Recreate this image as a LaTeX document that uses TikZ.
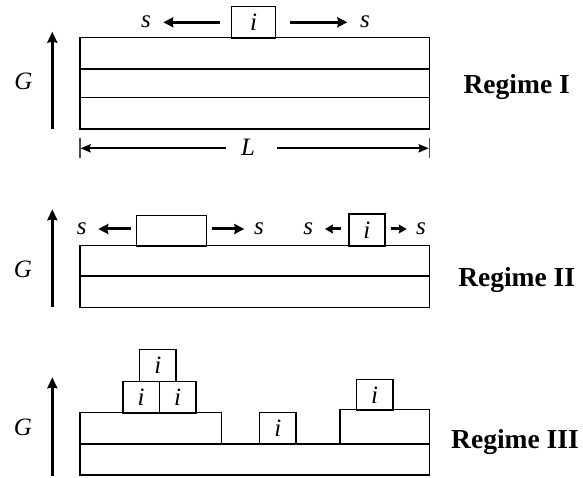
\documentclass[tikz,border=0pt]{standalone}
\usepackage{fontspec}
\setmainfont{Liberation Serif}
\usetikzlibrary{arrows.meta}
\begin{document}
\begin{tikzpicture}[x=1pt,y=-1pt,
  layer/.style={draw,line width=1.3pt},
  ibox/.style={draw,line width=1.3pt,inner sep=0pt,anchor=north west,font=\fontsize{25}{25}\selectfont\itshape},
  lbl/.style={inner sep=0pt,font=\fontsize{25}{25}\selectfont\itshape},
  reg/.style={inner sep=0pt,anchor=base,font=\fontsize{27.5}{27.5}\selectfont\bfseries},
  sarrow/.style={line width=3pt,-{Stealth[length=10pt,width=10pt,inset=1pt]}},
  smallarrow/.style={line width=3pt,-{Stealth[length=8pt,width=9pt,inset=1pt]}},
  garrow/.style={line width=3pt,-{Stealth[length=11pt,width=10pt,inset=1pt]}},
  larrow/.style={line width=2.2pt,-{Stealth[length=10pt,width=8pt,inset=1pt]}},
  tick/.style={line width=1.2pt,gray!60!black}]
\useasboundingbox (0,0) rectangle (583,478);
% ---------------- Regime I
\draw[layer] (80,37.7) rectangle (429.3,129);
\draw[layer] (80,69) -- (429.3,69);
\draw[layer] (80,97.7) -- (429.3,97.7);
\node[ibox,minimum width=44pt,minimum height=31.7pt] (i1) at (231,6) {i};
\coordinate (a1s) at (220,22.3); \coordinate (a1e) at (163.3,22.3);
\coordinate (b1s) at (290,22.3); \coordinate (b1e) at (347.3,22.3);
\draw[sarrow] (a1s) -- (a1e);
\draw[sarrow] (b1s) -- (b1e);
\node[lbl] (s1a) at (146,22) {s};
\node[lbl] (s1b) at (365,22) {s};
\coordinate (t1a) at (80,138); \coordinate (t1b) at (80,158);
\coordinate (t2a) at (429.3,138); \coordinate (t2b) at (429.3,158);
\draw[tick] (t1a) -- (t1b);
\draw[tick] (t2a) -- (t2b);
\node[lbl] (L) at (248,147) {L};
\coordinate (l1s) at (226,148.3); \coordinate (l1e) at (80.5,148.3);
\coordinate (l2s) at (276.7,148.3); \coordinate (l2e) at (428.8,148.3);
\draw[larrow] (l1s) -- (l1e);
\draw[larrow] (l2s) -- (l2e);
\coordinate (g1s) at (52.3,129); \coordinate (g1e) at (52.3,31.7);
\draw[garrow] (g1s) -- (g1e);
\node[lbl] (G1) at (23.3,81) {G};
\node[reg] (R1) at (516.7,93.3) {Regime I};
% ---------------- Regime II
\draw[layer] (80,245.7) rectangle (429.3,307.3);
\draw[layer] (80,276) -- (429.3,276);
\node[ibox,minimum width=70pt,minimum height=30.7pt] (big) at (136,215) {};
\node[ibox,minimum width=36pt,minimum height=32.4pt] (i2) at (348.3,213.3) {i};
\coordinate (c1s) at (130.7,229); \coordinate (c1e) at (98.3,229);
\coordinate (c2s) at (211.7,229); \coordinate (c2e) at (244.3,229);
\coordinate (c3s) at (341,229); \coordinate (c3e) at (325,229);
\coordinate (c4s) at (391,229); \coordinate (c4e) at (406.7,229);
\draw[sarrow] (c1s) -- (c1e);
\draw[sarrow] (c2s) -- (c2e);
\draw[smallarrow] (c3s) -- (c3e);
\draw[smallarrow] (c4s) -- (c4e);
\node[lbl] (s2a) at (81.7,229) {s};
\node[lbl] (s2b) at (259,229) {s};
\node[lbl] (s2c) at (308.3,229) {s};
\node[lbl] (s2d) at (421,229) {s};
\coordinate (g2s) at (52.3,307); \coordinate (g2e) at (52.3,209.3);
\draw[garrow] (g2s) -- (g2e);
\node[lbl] (G2) at (23,269) {G};
\node[reg] (R2) at (516.7,286.7) {Regime II};
% ---------------- Regime III
\draw[layer] (80,444) rectangle (429.3,475);
\draw[layer] (80,412.3) rectangle (221.7,444);
\draw[layer] (340,409.7) rectangle (429.3,444);
\node[ibox,minimum width=36.4pt,minimum height=31.6pt] (i3a) at (122.3,380.7) {i};
\node[ibox,minimum width=36.6pt,minimum height=31.6pt] (i3b) at (158.7,380.7) {i};
\node[ibox,minimum width=36.3pt,minimum height=31.7pt] (i3c) at (139,349) {i};
\node[ibox,minimum width=36.3pt,minimum height=32.3pt] (i3d) at (259,411.7) {i};
\node[ibox,minimum width=36.6pt,minimum height=31pt] (i3e) at (355.7,378.7) {i};
\coordinate (g3s) at (52.3,476); \coordinate (g3e) at (52.3,377.3);
\draw[garrow] (g3s) -- (g3e);
\node[lbl] (G3) at (23,427) {G};
\node[reg] (R3) at (515,448.3) {Regime III};
\end{tikzpicture}
\end{document}
